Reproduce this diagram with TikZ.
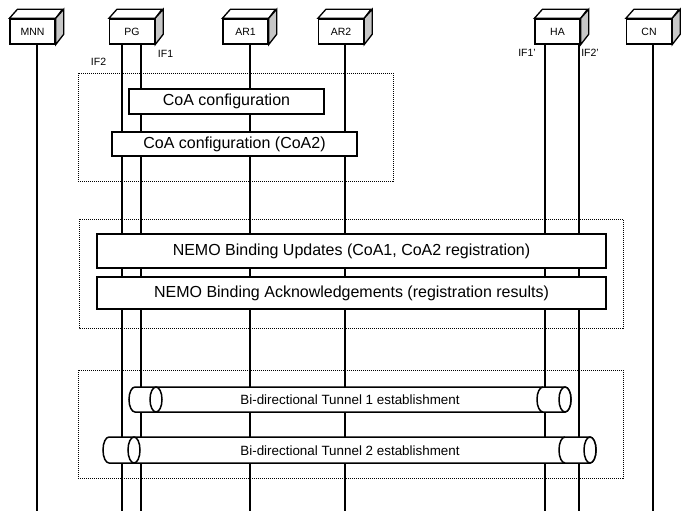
\documentclass[tikz,border=0pt]{standalone}
\usepackage{fontspec}
\setmainfont{Liberation Sans}
\colorlet{SideFace}{black!22}
\tikzset{
  device/.style={draw, fill=white, line width=1.3pt, inner sep=0pt,
    minimum width=45pt, minimum height=25pt,
    font=\fontsize{10.5pt}{12pt}\selectfont},
  lifeline/.style={line width=1.6pt},
  msgbox/.style={draw, fill=white, line width=1.5pt, inner sep=0pt,
    font=\fontsize{16pt}{19pt}\selectfont},
  phase/.style={line width=1pt, dash pattern=on 1pt off 1pt},
  tube/.style={draw, fill=white, line width=1.5pt},
  iflabel/.style={inner sep=0pt, font=\fontsize{10.5pt}{12pt}\selectfont},
  tunnellabel/.style={inner sep=0pt, font=\fontsize{13.4pt}{16pt}\selectfont},
}

\begin{document}
\begin{tikzpicture}[x=1pt, y=-1pt]

\useasboundingbox (0,0) rectangle (692,511);
\coordinate (bottom) at (0,511);

% Geraete
\node[device] (mnn) at (32.5,31.5) {MNN};
\node[device] (pg)  at (132,31.5)  {PG};
\node[device] (ar1) at (245.5,31.5) {AR1};
\node[device] (ar2) at (341,31.5)  {AR2};
\node[device] (ha)  at (557.5,31.5) {HA};
\node[device] (cn)  at (649,31.5)  {CN};

% Deckel und Seite (3D)
\foreach \n in {mnn,pg,ar1,ar2,ha,cn}{
  \draw[line width=1.3pt, fill=white] (\n.north west) -- ++(8,-9) -- ++(45,0)
      -- (\n.north east) -- cycle;
  \draw[line width=1.3pt, fill=SideFace] (\n.north east) -- ++(8,-9) -- ++(0,25)
      -- (\n.south east) -- cycle;
}

% Lebenslinien
\foreach \n/\dx in {mnn/4.5, pg/-10, pg/9, ar1/4.5, ar2/4, ha/-12.5, ha/21.5, cn/4}
  \draw[lifeline] ([xshift=\dx pt]\n.south) -- ([xshift=\dx pt]\n.south |- bottom);

% Schnittstellen
\node[iflabel] (if2)  at (98.5,62) {IF2};
\node[iflabel] (if1)  at (165.5,54) {IF1};
\node[iflabel] (if1h) at (527,53) {IF1'};
\node[iflabel] (if2h) at (590,53) {IF2'};

% Phasen
\draw[phase] (78,73) rectangle (393,181);
\draw[phase] (79,219) rectangle (623,328);
\draw[phase] (78,370) rectangle (623,478);

% Nachrichten
\node[msgbox, minimum width=195pt, minimum height=25pt] (coa1) at (226.5,101.5)
  {CoA configuration};
\node[msgbox, minimum width=245pt, minimum height=24pt] (coa2) at (234.5,144)
  {CoA configuration (CoA2)};
\node[msgbox, minimum width=509pt, minimum height=34pt] (bu) at (351.5,251)
  {NEMO Binding Updates (CoA1, CoA2 registration)};
\node[msgbox, minimum width=509pt, minimum height=32pt] (ba) at (351.5,293)
  {NEMO Binding Acknowledgements (registration results)};

% Tunnel 1
\draw[tube] (135,387) -- (565,387)
  arc[start angle=-90, end angle=90, x radius=6, y radius=12.5]
  -- (135,412) arc[start angle=90, end angle=270, x radius=6, y radius=12.5] -- cycle;
\draw[tube] (156,399.5) ellipse[x radius=6, y radius=12.5];
\draw[tube] (565,399.5) ellipse[x radius=6, y radius=12.5];
\draw[line width=1.5pt] (543,387) arc[start angle=-90, end angle=-270, x radius=6, y radius=12.5];
\node[tunnellabel] (tun1) at (350,400) {Bi-directional Tunnel 1 establishment};

% Tunnel 2
\draw[tube] (109,437) -- (590,437)
  arc[start angle=-90, end angle=90, x radius=6, y radius=13]
  -- (109,463) arc[start angle=90, end angle=270, x radius=6, y radius=13] -- cycle;
\draw[tube] (134,450) ellipse[x radius=6, y radius=13];
\draw[tube] (590,450) ellipse[x radius=6, y radius=13];
\draw[line width=1.5pt] (565,437) arc[start angle=-90, end angle=-270, x radius=6, y radius=13];
\node[tunnellabel] (tun2) at (350,451) {Bi-directional Tunnel 2 establishment};

\end{tikzpicture}
\end{document}
